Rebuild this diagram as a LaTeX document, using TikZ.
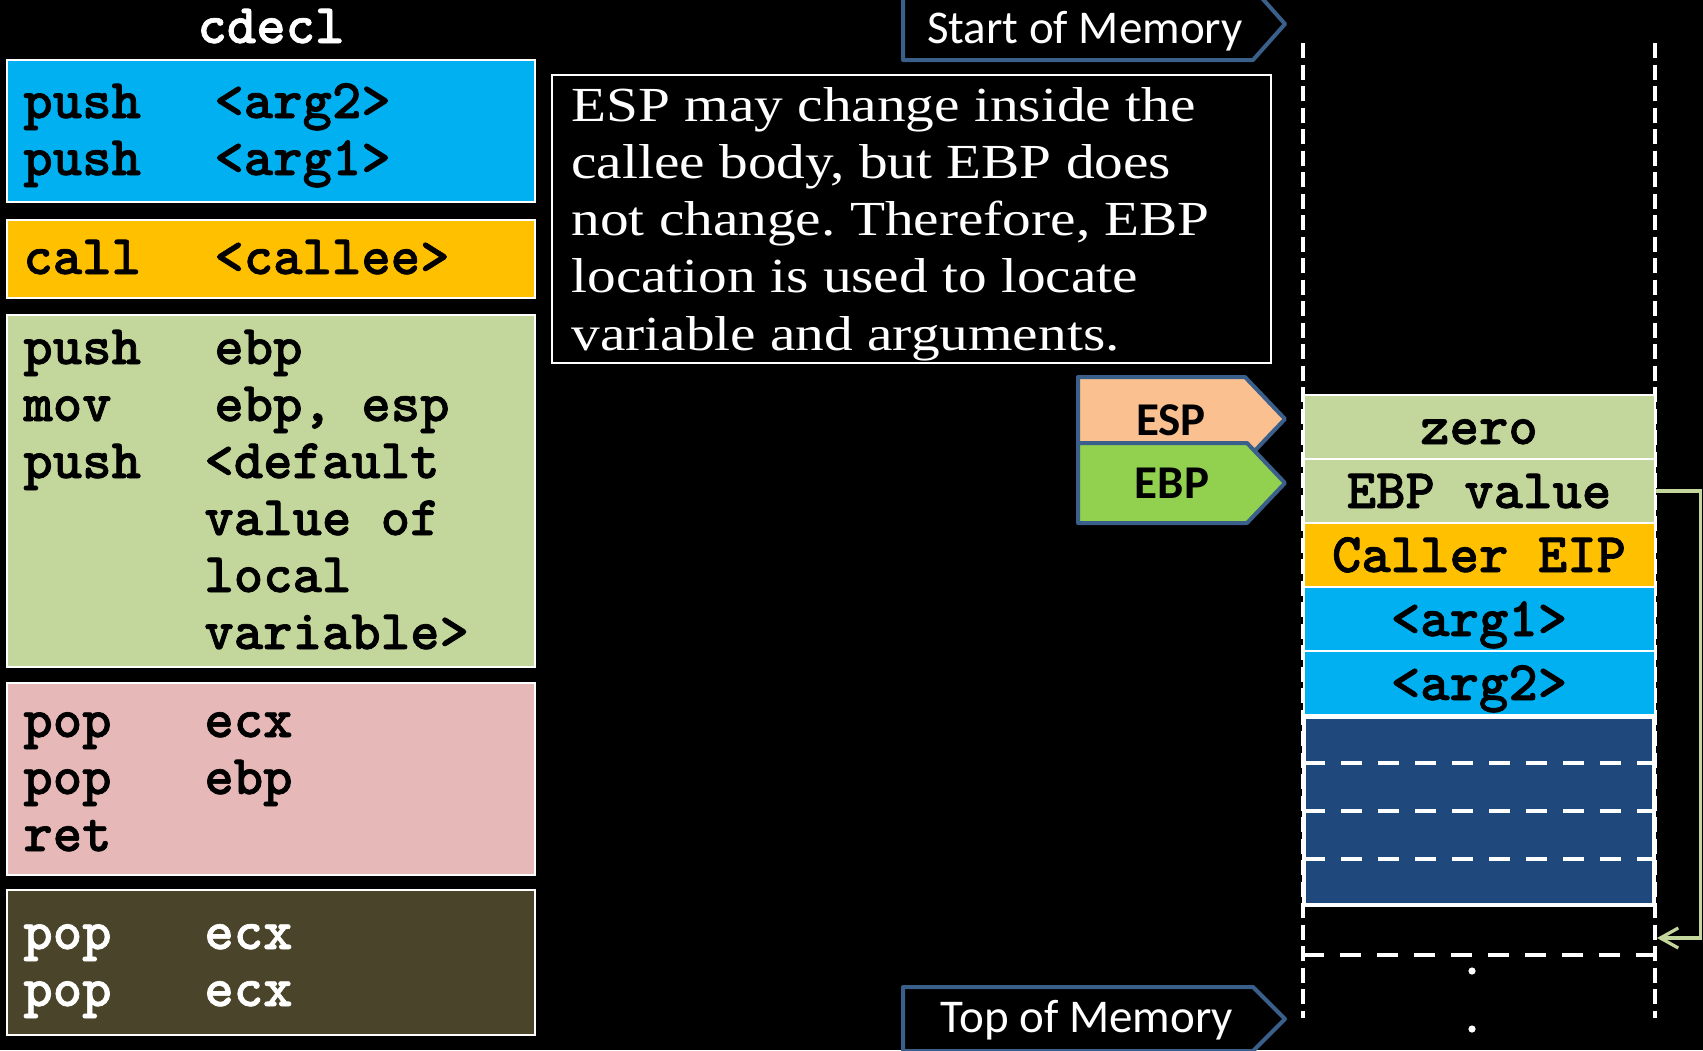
\documentclass[tikz,border=0pt]{standalone}
\usepackage{fontspec}
\usetikzlibrary{arrows.meta}
\newfontfamily\notefont[FakeStretch=1.17]{Liberation Serif}
\newfontfamily\labfont{Carlito}
\newfontfamily\codefont[FakeBold=1.2]{lmmonolt10-bold.otf}
\definecolor{cblue}{HTML}{00B0F0}
\definecolor{corange}{HTML}{FFC000}
\definecolor{cgreen}{HTML}{C3D69B}
\definecolor{cpink}{HTML}{E6B9B8}
\definecolor{colive}{HTML}{4A452A}
\definecolor{cdark}{HTML}{1F497D}
\definecolor{cedge}{HTML}{3A5F8B}
\definecolor{cesp}{HTML}{FAC090}
\definecolor{cebpf}{HTML}{92D050}
\newcommand\colA[1]{\makebox[95.5pt][l]{#1}}
\newcommand\colB[1]{\makebox[90.5pt][l]{#1}}
\begin{document}
\begin{tikzpicture}[x=0.5pt,y=-0.5pt,
  codebox/.style={draw=white,line width=0.9pt},
  codetxt/.style={font={\codefont\fontsize{28}{28.5}\selectfont},inner sep=0pt,anchor=base west},
  notetxt/.style={font={\notefont\frenchspacing\fontsize{24.5}{28.65}\selectfont},text=white,inner sep=0pt,anchor=base west},
  labtxt/.style={font={\labfont\fontsize{23.5}{28}\selectfont},text=white,inner sep=0pt,anchor=base},
  regtxt/.style={font={\labfont\bfseries\fontsize{23.5}{28}\selectfont},text=black,inner sep=0pt,anchor=base},
  pointer/.style={draw=cedge,line width=2pt,line join=round},
  cell/.style={draw=white,line width=1pt,minimum width=175.5pt,minimum height=32pt,inner sep=0pt,
    text height=19pt,text depth=2pt,font={\codefont\fontsize{28}{28.5}\selectfont}},
  vdash/.style={white,line width=2.25pt,dash pattern=on 7.5pt off 3.25pt},
  hdash/.style={white,line width=2pt,dash pattern=on 10.5pt off 8pt},
  conn/.style={draw=cgreen,line width=1.6pt,-{Straight Barb[length=9pt,width=10pt]}}]
\useasboundingbox (0,0) rectangle (1703,1050);
\fill[black] (0,0) rectangle (1703,1050);

% title
\node[codetxt,anchor=base,text=white] (title) at (271,43) {cdecl};

% left code boxes
\draw[codebox,fill=cblue] (7,60) rectangle (535,202);
\node[codetxt] (push) at (23,118) {\begin{tabular}[t]{@{}l@{}}\colA{push}<arg2>\\\colA{push}<arg1>\end{tabular}};
\draw[codebox,fill=corange] (7,220) rectangle (535,298);
\node[codetxt] (call) at (23,274) {\colA{call}<callee>};
\draw[codebox,fill=cgreen] (7,315) rectangle (535,667);
\node[codetxt] (prolog) at (23,364) {\begin{tabular}[t]{@{}l@{}}\colA{push}ebp\\\colA{mov}ebp, esp\\\colB{push}<default\\\colB{}value of\\\colB{}local\\\colB{}variable>\end{tabular}};
\draw[codebox,fill=cpink] (7,683) rectangle (535,875);
\node[codetxt] (epilog) at (23,737) {\begin{tabular}[t]{@{}l@{}}\colB{pop}ecx\\\colB{pop}ebp\\ret\end{tabular}};
\draw[codebox,fill=colive] (7,890) rectangle (535,1035);
\node[codetxt,text=white] (cleanup) at (23,949) {\begin{tabular}[t]{@{}l@{}}\colB{pop}ecx\\\colB{pop}ecx\end{tabular}};

% note
\draw[white,line width=1.2pt] (552,75) rectangle (1271,363);
\node[notetxt] (note) at (571,121) {\begin{tabular}[t]{@{}l@{}}ESP may change inside the\\callee body, but EBP does\\not change. Therefore, EBP\\location is used to locate\\variable and arguments.\end{tabular}};

% memory labels
\draw[pointer,fill=black] (903,-12) -- (1253,-12) -- (1285,24) -- (1253,60) -- (903,60) -- cycle;
\node[labtxt] (start) at (1085,43) {Start of Memory};
\draw[pointer,fill=black] (903,987) -- (1253,987) -- (1285,1019) -- (1253,1051) -- (903,1051) -- cycle;
\node[labtxt] (topmem) at (1087,1032) {Top of Memory};

% ESP / EBP pointers
\draw[pointer,fill=cesp] (1078,377) -- (1245,377) -- (1285,419) -- (1245,461) -- (1078,461) -- cycle;
\node[regtxt] (esp) at (1171,435) {ESP};
\draw[pointer,fill=cebpf] (1078,443) -- (1247,443) -- (1285,483) -- (1247,523) -- (1078,523) -- cycle;
\node[regtxt] (ebp) at (1172,498) {EBP};

% stack column
\draw[vdash] (1303,43) -- (1303,1018);
\draw[vdash] (1655,43) -- (1655,1018);
\node[cell,fill=cgreen] (czero) at (1479,427) {zero};
\node[cell,fill=cgreen] (cebp) at (1479,491) {EBP value};
\node[cell,fill=corange] (ceip) at (1479,555) {Caller EIP};
\node[cell,fill=cblue] (carg1) at (1479,619) {<arg1>};
\node[cell,fill=cblue] (carg2) at (1479,683) {<arg2>};
\node[draw=white,line width=2pt,fill=cdark,minimum width=175pt,minimum height=94pt,inner sep=0pt] (cfree) at (1479,811) {};
\draw[hdash] (1304,763) -- (1654,763);
\draw[hdash] (1304,811) -- (1654,811);
\draw[hdash] (1304,859) -- (1654,859);
\draw[hdash] (1303,955) -- (1655,955);
\fill[white] (1472,971) circle (1.8pt);
\fill[white] (1472,1029) circle (1.8pt);

% connector
\coordinate (ctgt) at (1657,938);
\draw[conn] (cebp.east) -- ++(45,0) |- (ctgt);
\end{tikzpicture}
\end{document}
